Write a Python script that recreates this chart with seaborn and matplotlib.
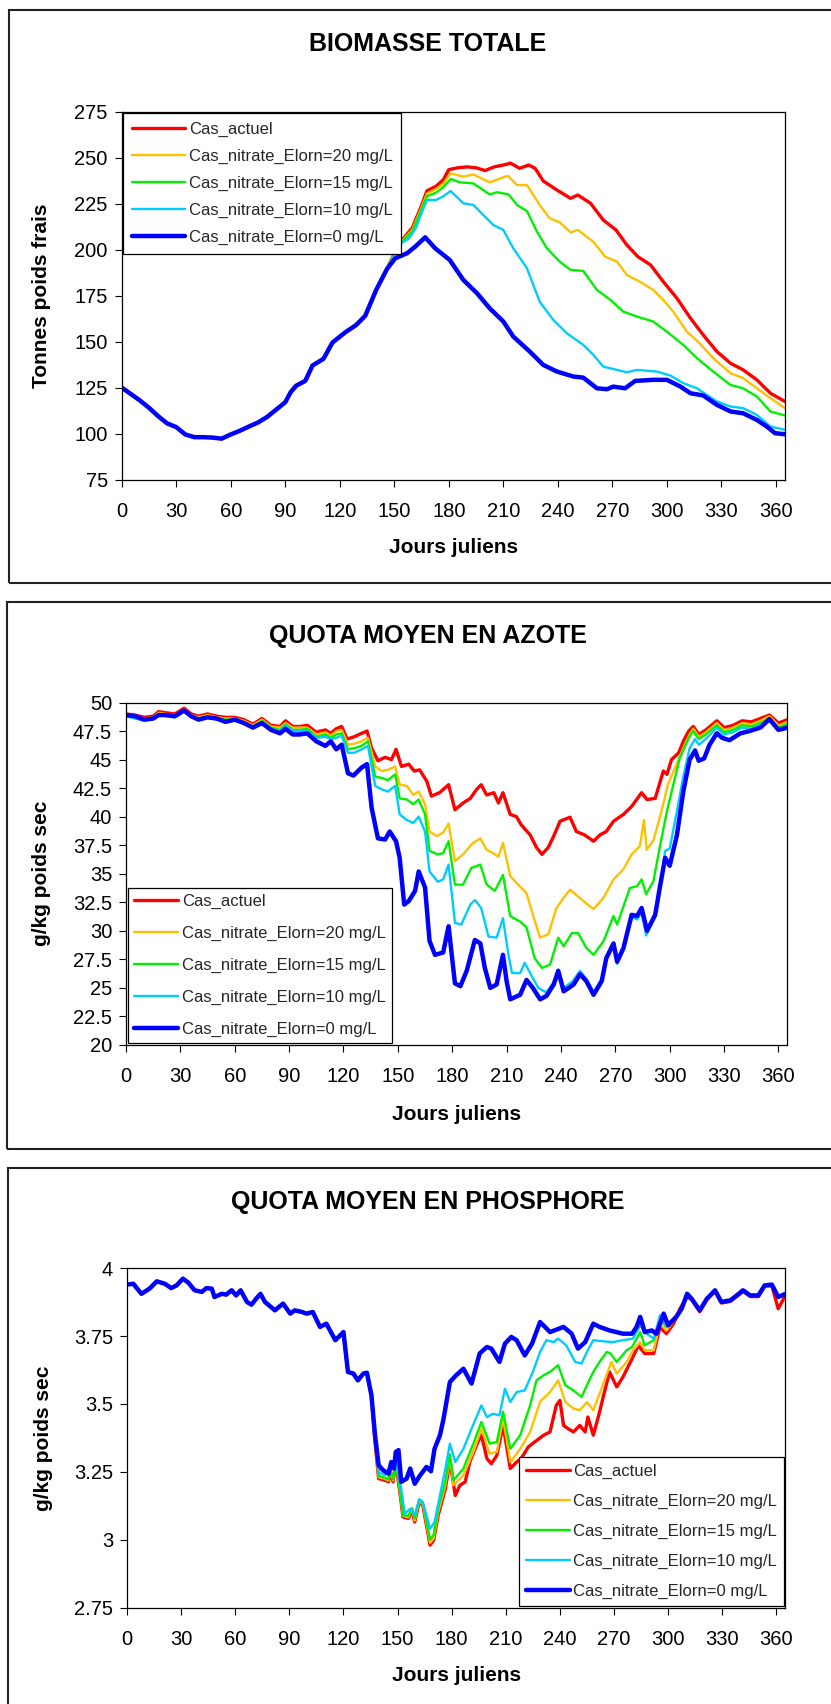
"""
Trois graphes : biomasse totale, quota moyen en azote, quota moyen en phosphore.
"""

import matplotlib
matplotlib.use('Agg')
import matplotlib.pyplot as plt
from matplotlib.patches import Rectangle
from matplotlib.ticker import FuncFormatter
import pandas as pd
import seaborn as sns

sns.set_theme(style='ticks')
plt.rcParams['font.family'] = ['Liberation Sans', 'DejaVu Sans']

NOMS = ['Cas_actuel', 'Cas_nitrate_Elorn=20 mg/L', 'Cas_nitrate_Elorn=15 mg/L',
        'Cas_nitrate_Elorn=10 mg/L', 'Cas_nitrate_Elorn=0 mg/L']
COULEURS = ['#FF0000', '#FFC000', '#00F000', '#00CCFF', '#0000FF']
EPAISSEURS = [2.4, 1.7, 1.7, 1.7, 3.2]

# ---- biomasse totale (jour, tonnes) ----
BIO_COMMUN = [(0, 125), (5, 121.5), (10, 118), (15, 114), (20, 109.5), (25, 105.5), (30, 103.5),
              (35, 99.5), (40, 98), (45, 98), (50, 97.8), (55, 97.2), (60, 99.5), (65, 101.5),
              (70, 103.8), (75, 106), (80, 109), (85, 113), (90, 117), (93, 122.5), (96, 126),
              (101, 128.6), (105, 137), (111, 140.6), (116, 149.5), (123, 155), (129, 159),
              (134, 164), (140, 178), (146, 189.5)]
BIO_ACTUEL = [(150, 198), (155, 206), (160, 212), (165, 224), (168, 232), (173, 234.5), (177, 238),
              (180, 243.5), (185, 244.5), (190, 245), (195, 244.5), (200, 243), (205, 245), (210, 246),
              (214, 247), (219, 244.2), (224, 246), (227.5, 244.2), (232, 237.3), (239.5, 232.4),
              (247, 227.9), (251, 229.7), (258, 225.2), (265, 216.1), (272, 210.7), (278, 202.5),
              (284, 196.2), (291, 191.7), (298, 182.6), (305.5, 173.6), (313, 162.7), (320, 153.6),
              (327.5, 144.6), (335, 138.2), (342, 134.6), (349.5, 129.2), (357, 121.9), (365, 117.4)]
BIO_20 = [(150, 198), (155, 205.5), (160, 211), (165, 223), (168, 230.5), (173, 233), (177, 236),
          (181, 241.5), (188, 239.7), (193.5, 240.9), (202.5, 236.6), (212.5, 240.2), (217.5, 235.1),
          (223, 235.1), (230, 224.3), (235.5, 217), (241, 214.9), (247, 209.4), (251, 210.7),
          (259.5, 204.3), (266, 196.2), (272.5, 193.5), (278, 186.2), (285, 182.6), (292.5, 178.1),
          (298, 172.6), (303.5, 166.3), (311, 155.4), (318, 149.1), (325.5, 141), (335, 132.8),
          (342, 130.1), (349.5, 124.6), (357, 119.2), (365, 113.8)]
BIO_15 = [(150, 198), (155, 205), (160, 210), (165, 222), (168, 229), (173, 231), (177, 234),
          (181, 238.4), (186, 236.6), (193.5, 236), (202.5, 230), (206.5, 231.2), (213, 230),
          (217.5, 224.3), (223, 221), (228.5, 209.8), (234, 200.7), (241, 193.5), (247, 189),
          (254, 188.4), (261.5, 178.1), (269, 172.6), (276, 166.3), (283.5, 163.6), (292.5, 160.9),
          (300, 155.4), (309, 148.2), (316.5, 141), (325.5, 133.7), (335, 126.4), (342, 124.6),
          (349.5, 120.1), (357, 112), (365, 109.8)]
BIO_10 = [(150, 197), (153, 203), (158, 206), (162, 212), (165, 220), (168, 227), (173, 227),
          (177, 229), (181, 231.9), (188, 225.2), (193.5, 224.3), (199, 218.8), (204.5, 213.4),
          (210, 210.7), (215.5, 200.7), (223, 189.9), (230, 171.7), (237.5, 161.8), (245, 154.5),
          (254, 148.2), (259.5, 142.8), (265, 136.4), (272.5, 134.6), (278, 133.3), (283.5, 134.6),
          (294.5, 133.7), (302, 131.5), (309, 127.4), (316.5, 124.6), (327.5, 117.4), (335, 114.7),
          (342, 113.8), (349.5, 110.1), (357, 103.8), (365, 102)]
BIO_0 = [(150.5, 195.3), (157, 198), (161.5, 201.6), (167, 206.7), (172.5, 200.7), (180.5, 194.4),
         (188, 183.5), (195.5, 176.3), (202.5, 168.1), (210, 160.9), (215.5, 152.7), (224.5, 144.6),
         (232, 137.3), (239.5, 133.7), (248.5, 131), (254, 130.4), (261.5, 124.6), (267, 124.1),
         (270.5, 125.5), (277, 124.6), (282.5, 128.6), (292.5, 129.2), (300, 129.2), (307.5, 125.5),
         (313, 121.9), (320, 120.7), (327.5, 115.6), (335, 112), (342, 111), (349.5, 107.4),
         (355, 103.8), (359.5, 100.2), (365, 99.6)]

# ---- quota moyen en azote (jour, g/kg) ----
AZ_ACTUEL = [(0, 49.0), (5, 48.9), (10, 48.7), (15, 48.8), (18, 49.2), (22, 49.1), (27, 49.0),
             (32, 49.5), (36, 49.0), (40, 48.8), (45, 49.0), (50, 48.8), (55, 48.7), (60, 48.7),
             (65, 48.5), (70, 48.1), (75, 48.6), (80, 48.0), (85, 47.9), (88, 48.4), (92, 47.9),
             (96, 47.9), (100, 48.0), (105, 47.4), (110, 47.6), (113, 47.3), (116, 47.7), (119, 47.9),
             (122, 46.8), (126, 47.0), (130, 47.3), (133, 47.5), (135.5, 46.0), (139, 44.9), (143, 45.2),
             (146.5, 45.0), (149, 45.9), (152, 44.4), (156, 44.6), (159, 44.0), (162, 44.1), (166, 43.1),
             (168.5, 41.8), (173, 42.1), (178, 42.8), (181.5, 40.6), (186, 41.2), (190, 41.6),
             (193.5, 42.4), (196, 42.8), (199, 41.9), (203, 42.1), (205.5, 41.2), (208, 42.1),
             (212, 40.2), (215.5, 40.0), (218, 39.3), (223, 38.4), (226.5, 37.3), (229.5, 36.7),
             (233, 37.3), (236, 38.3), (239.5, 39.6), (245, 39.95), (248.5, 38.7), (253, 38.4),
             (258, 37.85), (261.5, 38.4), (265, 38.7), (269, 39.6), (274.5, 40.2), (279, 40.9),
             (284.5, 42.1), (287.5, 41.5), (292, 41.6), (296.5, 44.0), (298.5, 43.7), (301, 45.0),
             (305, 45.6), (307.5, 46.6), (310.5, 47.5), (313, 47.9), (316, 47.2), (320, 47.6),
             (326, 48.4), (330, 47.8), (335, 48.0), (340, 48.4), (345, 48.3), (350, 48.6), (355, 48.9),
             (360, 48.2), (365, 48.5)]
AZ_20 = [(0, 48.9), (5, 48.8), (10, 48.6), (15, 48.7), (18, 49.1), (22, 49.0), (27, 48.9), (32, 49.4),
         (36, 48.9), (40, 48.7), (45, 48.9), (50, 48.7), (55, 48.6), (60, 48.6), (65, 48.4), (70, 48.0),
         (75, 48.5), (80, 47.9), (85, 47.8), (88, 48.2), (92, 47.8), (96, 47.8), (100, 47.8),
         (105, 47.2), (110, 47.4), (113, 47.1), (116, 47.5), (119, 47.6), (122.5, 46.3), (126, 46.4),
         (130, 46.6), (133.5, 46.9), (137.5, 44.4), (141, 44.0), (144.5, 44.1), (148.5, 44.4),
         (151, 42.8), (155, 42.7), (158.5, 41.9), (161.5, 42.2), (165, 41.1), (167.5, 38.7),
         (171.5, 38.3), (175, 38.6), (178, 39.4), (181.5, 36.1), (186, 36.7), (191.5, 37.7),
         (195.5, 38.1), (199, 37.1), (202.5, 36.8), (205.5, 36.5), (208, 37.7), (212, 34.8),
         (215.5, 34.2), (221, 33.3), (224.5, 31.4), (228.5, 29.4), (233, 29.7), (237.5, 32.0),
         (241.5, 32.9), (245, 33.6), (249.5, 33.0), (254, 32.4), (258, 31.9), (263.5, 32.9),
         (269, 34.5), (274.5, 35.4), (279, 36.7), (283.5, 37.4), (285.8, 39.7), (287.3, 37.1),
         (291, 37.9), (295.5, 40.5), (299, 42.8), (303, 44.3), (307.5, 46.0), (311, 47.2), (313, 47.7),
         (316, 47.0), (320, 47.4), (326, 48.2), (330, 47.6), (335, 47.8), (340, 48.2), (345, 48.1),
         (350, 48.4), (355, 48.8), (360, 48.0), (365, 48.3)]
AZ_15 = [(0, 48.8), (5, 48.7), (10, 48.5), (15, 48.6), (18, 49.0), (22, 48.9), (27, 48.8), (32, 49.3),
         (36, 48.8), (40, 48.6), (45, 48.8), (50, 48.6), (55, 48.5), (60, 48.5), (65, 48.3), (70, 47.9),
         (75, 48.4), (80, 47.8), (85, 47.6), (88, 48.1), (92, 47.6), (96, 47.6), (100, 47.7),
         (105, 47.0), (110, 47.2), (113, 46.9), (116, 47.2), (119, 47.3), (122.5, 45.9), (126, 46.0),
         (130, 46.2), (133.5, 46.6), (137.5, 43.5), (141, 43.4), (144.5, 43.2), (148.5, 43.7),
         (151, 41.6), (155, 41.5), (158.5, 41.1), (161.5, 41.5), (165, 40.2), (167.5, 37.0),
         (172, 36.7), (175, 36.8), (178, 37.85), (181.5, 34.05), (186, 34.05), (190.5, 35.5),
         (195.5, 35.8), (199, 34.05), (203.5, 33.5), (208, 34.9), (212, 31.3), (217.5, 30.8),
         (221, 30.3), (225.5, 27.6), (229.5, 26.75), (234, 27.05), (238.5, 29.4), (241.5, 28.65),
         (246, 29.8), (249.5, 29.8), (254, 28.5), (258, 27.9), (263.5, 29.1), (269, 31.3),
         (271, 30.55), (278, 33.75), (282, 33.9), (284.5, 34.5), (287, 33.2), (291, 34.35),
         (294.5, 37.3), (298.5, 40.5), (302, 42.8), (305.5, 45.1), (310.5, 46.9), (313, 47.5),
         (316, 46.8), (320, 47.2), (326, 48.0), (330, 47.4), (335, 47.6), (340, 48.0), (345, 47.9),
         (350, 48.2), (355, 48.6), (360, 47.8), (365, 48.1)]
AZ_10 = [(0, 48.8), (5, 48.6), (10, 48.4), (15, 48.5), (18, 48.9), (22, 48.8), (27, 48.7), (32, 49.2),
         (36, 48.7), (40, 48.5), (45, 48.7), (50, 48.5), (55, 48.4), (60, 48.4), (65, 48.2), (70, 47.8),
         (75, 48.3), (80, 47.7), (85, 47.5), (88, 48.0), (92, 47.5), (96, 47.5), (100, 47.5),
         (105, 46.9), (110, 47.0), (113, 46.8), (116, 46.9), (119, 47.1), (122.5, 45.6), (126, 45.6),
         (130, 45.9), (133.5, 46.2), (137.5, 42.7), (141, 42.4), (144.5, 42.2), (148.5, 42.7),
         (151, 40.2), (155, 39.7), (158.5, 39.45), (161.5, 40.0), (165, 38.7), (167.5, 35.2),
         (172, 34.3), (175, 34.5), (178, 35.8), (181.5, 30.7), (185, 30.55), (190, 32.3),
         (192.5, 32.7), (196, 32.0), (200, 29.5), (204.5, 29.4), (208, 31.1), (211, 27.9),
         (213, 26.3), (217.5, 26.3), (220, 27.2), (224, 26.0), (227.5, 25.0), (232, 24.6),
         (236, 25.5), (238.5, 26.6), (241.5, 25.0), (246.5, 25.6), (250.5, 26.5), (254, 25.8),
         (258, 24.6), (262.5, 25.8), (265, 27.5), (269, 28.7), (271, 27.1), (274.5, 28.3),
         (279, 31.2), (282, 31.0), (284.5, 31.6), (287, 29.6), (292, 31.3), (295, 34.0),
         (297.5, 37.0), (300, 37.2), (304, 40.5), (307.5, 43.5), (311, 46.0), (314, 46.8),
         (316, 46.3), (320, 46.8), (326, 47.8), (330, 47.2), (335, 47.4), (340, 47.8), (345, 47.7),
         (350, 48.0), (355, 48.4), (360, 47.7), (365, 47.9)]
AZ_0 = [(0, 48.9), (5, 48.8), (10, 48.5), (15, 48.6), (18, 48.9), (22, 48.9), (27, 48.8), (32, 49.3),
        (36, 48.8), (40, 48.5), (45, 48.7), (50, 48.6), (55, 48.3), (60, 48.5), (65, 48.2), (70, 47.8),
        (75, 48.2), (80, 47.6), (85, 47.3), (88, 47.7), (92, 47.2), (96, 47.2), (100, 47.3),
        (105, 46.6), (110, 46.2), (113, 46.6), (116, 45.9), (119, 46.3), (122.5, 43.8), (125.5, 43.6),
        (130, 44.3), (133, 44.6), (135.5, 40.8), (139, 38.1), (143, 38.0), (145.5, 38.7),
        (149, 37.85), (151, 36.4), (153.5, 32.3), (156, 32.6), (159.5, 33.5), (161.5, 35.2),
        (165, 33.8), (167.5, 29.1), (170.5, 27.9), (175, 28.1), (178, 30.4), (181.5, 25.4),
        (184.5, 25.15), (188, 26.5), (192.5, 29.2), (195.5, 28.9), (198, 26.75), (201, 25.0),
        (204.5, 25.3), (208, 27.9), (210, 25.6), (212, 24.0), (217.5, 24.4), (221, 25.7),
        (224.5, 25.0), (228.5, 24.0), (232, 24.3), (236, 25.3), (238.5, 26.5), (241.5, 24.7),
        (247, 25.3), (250.5, 26.2), (254, 25.6), (258, 24.4), (262.5, 25.6), (265, 27.6),
        (269, 28.9), (271, 27.3), (274.5, 28.5), (279, 31.4), (282, 31.3), (284.5, 32.0),
        (287.5, 30.0), (292, 31.4), (294.5, 33.75), (297.5, 36.4), (300, 35.7), (304, 38.4),
        (307.5, 42.2), (311, 45.0), (314, 45.8), (316, 44.9), (319, 45.1), (322, 46.3), (326, 47.3),
        (329, 46.9), (333, 46.7), (339, 47.3), (344, 47.5), (350, 47.8), (355, 48.55), (360, 47.6),
        (365, 47.8)]

# ---- quota moyen en phosphore (jour, g/kg) ----
PH_COMMUN = [(0, 3.94), (3.5, 3.943), (8, 3.906), (12.5, 3.925), (16.5, 3.952), (21, 3.943),
             (24.5, 3.927), (27.5, 3.937), (31, 3.962), (34, 3.947), (37.5, 3.919), (41.5, 3.913),
             (44, 3.927), (47, 3.925), (48.5, 3.894), (52.5, 3.906), (55, 3.903), (58, 3.919),
             (60.5, 3.9), (63, 3.919), (66.5, 3.876), (69, 3.866), (72, 3.891), (74, 3.906),
             (76.5, 3.876), (82, 3.845), (86.5, 3.87), (90.5, 3.833), (93, 3.845), (97, 3.839),
             (99.5, 3.833), (103, 3.839), (107, 3.784), (110.5, 3.796), (115.5, 3.735), (120, 3.765),
             (122.5, 3.618), (125.5, 3.612), (128, 3.587), (131, 3.612), (133, 3.615), (135.5, 3.532)]
PH_FIN = [(307.5, 3.851), (310.5, 3.906), (313, 3.888), (317.5, 3.845), (321.5, 3.888), (326, 3.919),
          (329.5, 3.876), (334.5, 3.882), (338, 3.9), (341.5, 3.919), (345.5, 3.9), (350, 3.9),
          (353.5, 3.937), (357.5, 3.94), (361, 3.894), (365, 3.906)]
PH_ACTUEL = [(137.5, 3.36), (139.5, 3.225), (143, 3.219), (145, 3.213), (146, 3.25), (147.5, 3.213),
             (149, 3.286), (151.5, 3.163), (153, 3.084), (156, 3.078), (158, 3.108), (159.5, 3.065),
             (162, 3.139), (164, 3.127), (168, 2.98), (170, 2.998), (172.5, 3.09), (176.5, 3.188),
             (179, 3.29), (182, 3.163), (184.5, 3.2), (187.5, 3.213), (190, 3.286), (194.5, 3.36),
             (196.5, 3.385), (199.5, 3.299), (202, 3.28), (205, 3.31), (208.5, 3.421), (212.5, 3.262),
             (216, 3.286), (218.5, 3.299), (222.5, 3.342), (226, 3.36), (231, 3.385), (234.5, 3.397),
             (238, 3.495), (240, 3.513), (242, 3.421), (244.5, 3.409), (247.5, 3.397), (251, 3.421),
             (254, 3.397), (255.5, 3.452), (258.5, 3.385), (261.5, 3.458), (264, 3.526),
             (267.5, 3.618), (271.5, 3.563), (275, 3.6), (280, 3.667), (283.5, 3.716), (287, 3.686),
             (292, 3.686), (295.5, 3.784), (299, 3.759), (303, 3.796), (306.5, 3.851),
             (310.5, 3.894), (313, 3.885), (317.5, 3.84), (321.5, 3.885), (326, 3.915),
             (329.5, 3.872), (334.5, 3.878), (338, 3.896), (341.5, 3.915), (345.5, 3.896),
             (350, 3.896), (353.5, 3.935), (357.5, 3.935), (361, 3.851), (365, 3.9)]
PH_20 = [(137.5, 3.365), (139.5, 3.23), (143, 3.224), (145, 3.218), (146, 3.255), (147.5, 3.218),
         (149, 3.29), (151.5, 3.168), (153, 3.088), (156, 3.082), (158, 3.112), (159.5, 3.07),
         (162, 3.143), (164, 3.131), (168, 2.988), (170, 3.005), (172.5, 3.1), (176.5, 3.2),
         (179, 3.3), (181, 3.2), (186.5, 3.237), (192, 3.323), (196.5, 3.409), (201, 3.317),
         (205, 3.323), (208.5, 3.446), (212.5, 3.286), (218, 3.335), (223.5, 3.397), (229, 3.508),
         (234.5, 3.544), (239, 3.587), (243, 3.507), (247.5, 3.483), (251, 3.477), (255, 3.507),
         (258.5, 3.477), (263, 3.556), (268.5, 3.655), (271.5, 3.612), (277, 3.655), (280.5, 3.698),
         (284.5, 3.728), (287, 3.698), (292, 3.698), (295.5, 3.796), (299, 3.77), (303, 3.805)]
PH_15 = [(137.5, 3.37), (139.5, 3.235), (143, 3.228), (145, 3.222), (146, 3.26), (147.5, 3.222),
         (149, 3.29), (151.5, 3.172), (153, 3.09), (156, 3.088), (158, 3.116), (159.5, 3.078),
         (162, 3.148), (164, 3.136), (168, 3.0), (170, 3.018), (172.5, 3.115), (176.5, 3.215),
         (179, 3.315), (181, 3.219), (186.5, 3.262), (192, 3.354), (196.5, 3.434), (201, 3.354),
         (205, 3.36), (208.5, 3.471), (212.5, 3.335), (218, 3.385), (223.5, 3.495), (227, 3.587),
         (231, 3.606), (234.5, 3.618), (239, 3.643), (243, 3.569), (247.5, 3.55), (252, 3.526),
         (255, 3.569), (258.5, 3.618), (262, 3.655), (266, 3.692), (268, 3.686), (271.5, 3.655),
         (277, 3.698), (280, 3.71), (284.5, 3.765), (287, 3.716), (292, 3.735), (295.5, 3.815),
         (299, 3.784), (303, 3.81)]
PH_10 = [(137.5, 3.375), (139.5, 3.249), (143, 3.237), (146, 3.274), (149.5, 3.28), (152, 3.188),
         (154, 3.096), (157, 3.114), (159.5, 3.09), (162, 3.149), (164, 3.139), (168, 3.04),
         (170.5, 3.065), (173.5, 3.163), (176.5, 3.262), (179, 3.354), (182, 3.286), (186.5, 3.335),
         (191, 3.409), (196.5, 3.495), (199.5, 3.452), (203, 3.464), (206.5, 3.458), (209.5, 3.556),
         (212.5, 3.507), (216, 3.544), (220.5, 3.55), (225, 3.618), (229, 3.692), (232.5, 3.735),
         (236.5, 3.728), (239, 3.741), (243.5, 3.716), (248.5, 3.655), (252, 3.649), (255, 3.692),
         (258.5, 3.735), (264, 3.731), (269.5, 3.728), (275, 3.735), (280.5, 3.741), (284.5, 3.79),
         (288, 3.759), (292, 3.741), (295.5, 3.827), (299, 3.79), (303, 3.815)]
PH_0 = [(137.5, 3.385), (139.5, 3.274), (142, 3.256), (145, 3.243), (146.5, 3.286), (148, 3.262),
        (149, 3.323), (150.5, 3.33), (152, 3.213), (155, 3.225), (157, 3.262), (159.5, 3.206),
        (162.5, 3.237), (166, 3.268), (168.5, 3.252), (170.5, 3.335), (173.5, 3.385), (175.5, 3.446),
        (179, 3.581), (182.5, 3.606), (186.5, 3.63), (191, 3.575), (195.5, 3.686), (199.5, 3.71),
        (202, 3.704), (206.5, 3.655), (209.5, 3.722), (213, 3.747), (216, 3.735), (220.5, 3.679),
        (224.5, 3.722), (229, 3.802), (234.5, 3.765), (242, 3.784), (246.5, 3.759), (250, 3.704),
        (254, 3.728), (258.5, 3.796), (262, 3.784), (267.5, 3.771), (275, 3.759), (280, 3.759),
        (282.5, 3.784), (284.5, 3.821), (287, 3.765), (291, 3.771), (293.5, 3.759), (297.5, 3.833),
        (300, 3.79), (304.5, 3.821)]

BIOMASSE = [BIO_COMMUN + BIO_ACTUEL, BIO_COMMUN + BIO_20, BIO_COMMUN + BIO_15,
            BIO_COMMUN + BIO_10, BIO_COMMUN + BIO_0]
AZOTE = [AZ_ACTUEL, AZ_20, AZ_15, AZ_10, AZ_0]
PHOSPHORE = [PH_COMMUN + PH_ACTUEL, PH_COMMUN + PH_20 + PH_FIN, PH_COMMUN + PH_15 + PH_FIN,
             PH_COMMUN + PH_10 + PH_FIN, PH_COMMUN + PH_0 + PH_FIN]

W, H = 831.0, 1704.0


def fig_rect(left, top, right, bottom):
    """ pixel box -> figure fraction [x, y, w, h] """
    return [left / W, 1 - bottom / H, (right - left) / W, (bottom - top) / H]


def panel(fig, box, courbes, titre, titre_y, ylabel, ylim, yticks, leg_kw, ylab_x, xlab_y, cadre):
    x0, y0, x1, y1 = cadre
    fig.patches.append(Rectangle((x0 / W, 1 - y1 / H), (x1 - x0) / W, (y1 - y0) / H,
                                 transform=fig.transFigure, fill=False, edgecolor='#222222',
                                 linewidth=1.5, clip_on=False))
    fig.text(428 / W, 1 - titre_y / H, titre, ha='center', va='center',
             fontsize=18, fontweight='bold', color='black')

    ax = fig.add_axes(fig_rect(*box))
    for nom, pts, c, lw in zip(NOMS, courbes, COULEURS, EPAISSEURS):
        df = pd.DataFrame(pts, columns=['jour', 'valeur'])
        sns.lineplot(data=df, x='jour', y='valeur', ax=ax, color=c, linewidth=lw,
                     label=nom, estimator=None, sort=False)

    ax.set_xlim(0, 365)
    ax.set_xticks(range(0, 361, 30))
    ax.set_ylim(*ylim)
    ax.set_yticks(yticks)
    ax.yaxis.set_major_formatter(FuncFormatter(lambda v, p: '{:g}'.format(round(v, 2))))
    for s in ax.spines.values():
        s.set_color('black')
        s.set_linewidth(0.9)
    ax.tick_params(direction='out', length=5, width=0.8, colors='black', labelsize=14.5)
    ax.tick_params(axis='x', pad=11)
    ax.tick_params(axis='y', pad=5)

    ax.set_xlabel('Jours juliens', fontsize=15, fontweight='bold', color='black')
    ax.set_ylabel(ylabel, fontsize=15, fontweight='bold', color='black')
    ax.xaxis.set_label_coords(0.5, xlab_y)
    ax.yaxis.set_label_coords(ylab_x, 0.5)

    leg = ax.legend(frameon=True, fancybox=False, framealpha=1, edgecolor='black', fontsize=12,
                    borderaxespad=0.1, **leg_kw)
    leg.get_frame().set_linewidth(0.9)
    return ax


fig = plt.figure(figsize=(W / 100, H / 100), dpi=100)

panel(fig, (121.7, 111.7, 785, 479.5), BIOMASSE, 'BIOMASSE TOTALE', 43.6,
      'Tonnes poids frais', (75, 275), range(75, 276, 25),
      dict(loc='upper left', labelspacing=0.72, handlelength=3.2, handletextpad=0.25,
           borderpad=0.5),
      -0.107, -0.158, (9, 10, 860, 583))

panel(fig, (126, 702.5, 787.5, 1045), AZOTE, 'QUOTA MOYEN EN AZOTE', 636.5,
      'g/kg poids sec', (20, 50), [20 + 2.5 * i for i in range(13)],
      dict(loc='lower left', labelspacing=1.0, handlelength=2.65, handletextpad=0.2,
           borderpad=0.4),
      -0.113, -0.175, (7, 602, 860, 1149))

panel(fig, (127, 1268.3, 785.4, 1607.5), PHOSPHORE, 'QUOTA MOYEN EN PHOSPHORE', 1202,
      'g/kg poids sec', (2.75, 4), [2.75 + 0.25 * i for i in range(6)],
      dict(loc='lower right', labelspacing=0.9, handlelength=2.65, handletextpad=0.2,
           borderpad=0.4),
      -0.112, -0.173, (8, 1168, 860, 1730))

fig.savefig('out.png', dpi=100, facecolor='white')
